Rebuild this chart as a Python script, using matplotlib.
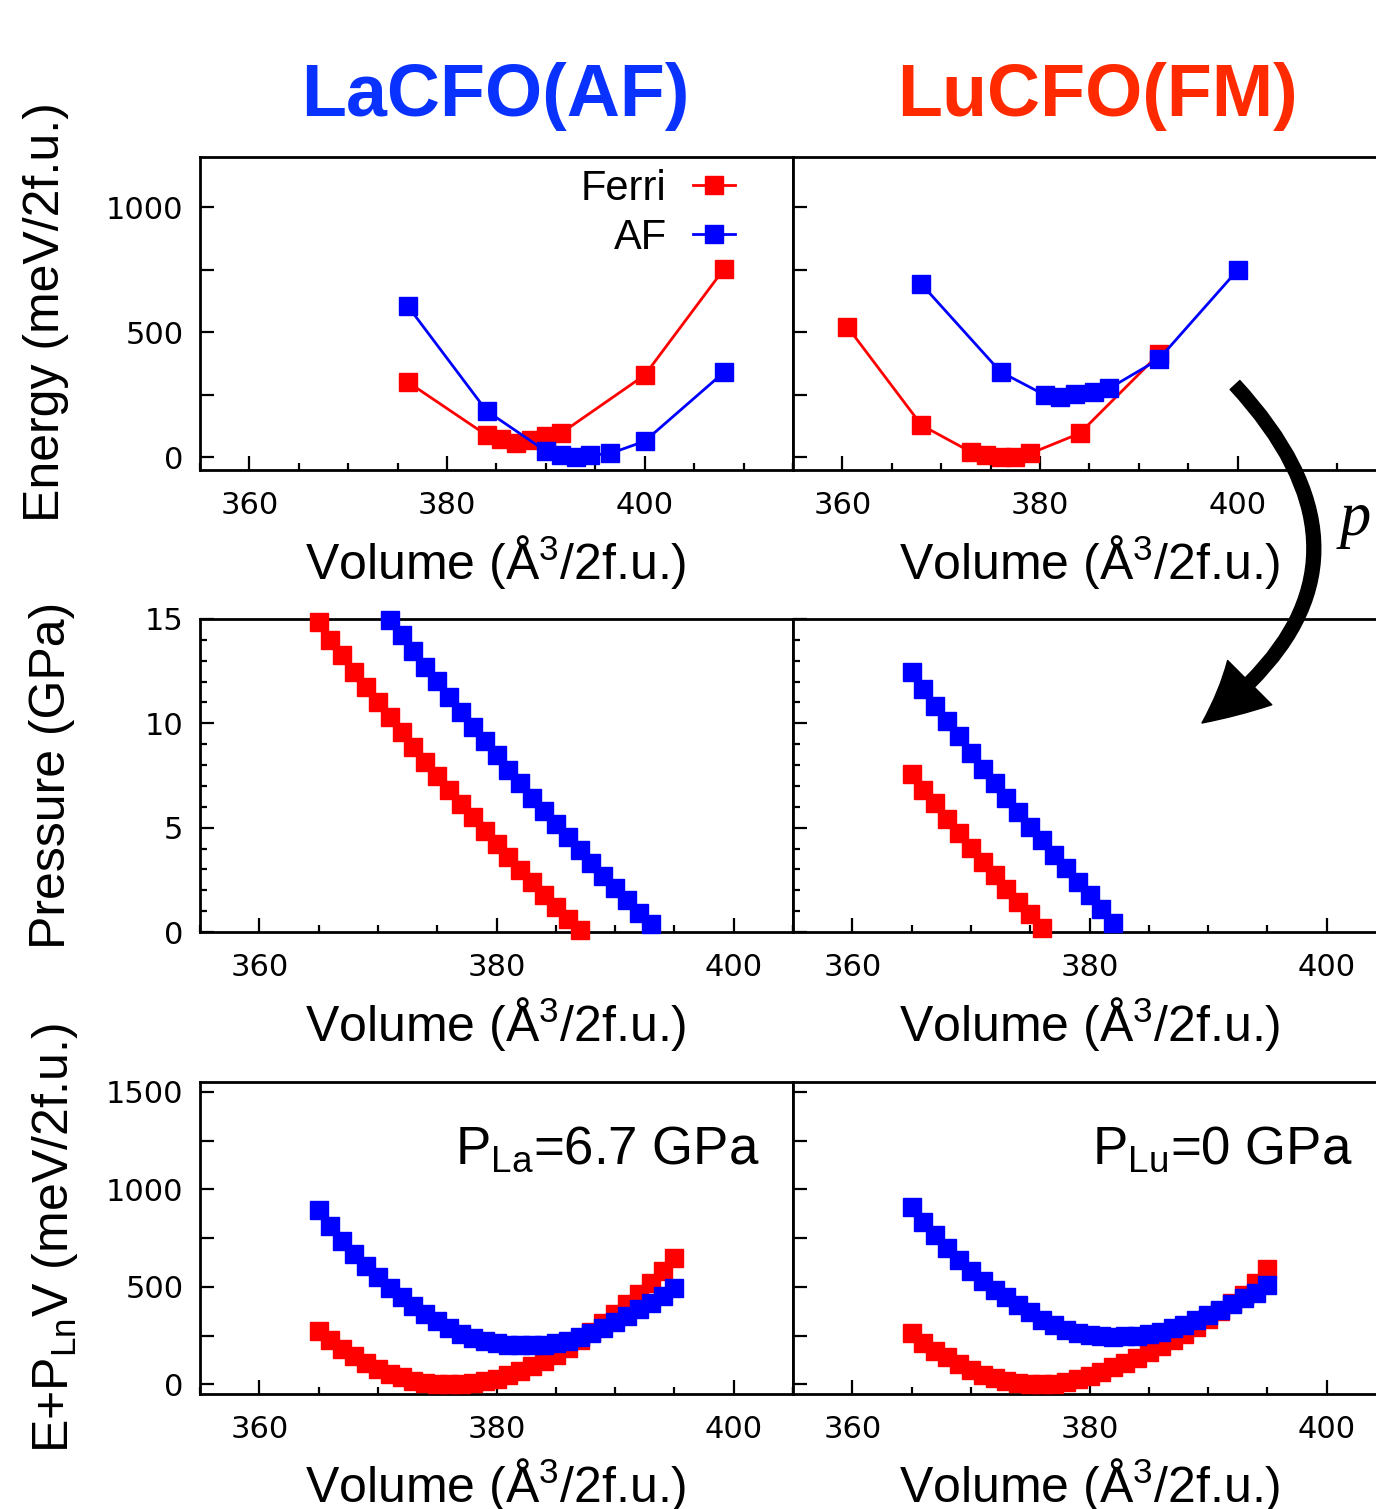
import matplotlib
matplotlib.use('Agg')
import matplotlib.pyplot as plt
from matplotlib.patches import FancyArrowPatch, ArrowStyle
from matplotlib.ticker import MultipleLocator, FuncFormatter

plt.rcParams['font.family'] = ['Liberation Sans', 'DejaVu Sans']
plt.rcParams['mathtext.fontset'] = 'custom'
plt.rcParams['mathtext.rm'] = 'Liberation Sans'
plt.rcParams['mathtext.it'] = 'Liberation Sans:italic'
plt.rcParams['mathtext.bf'] = 'Liberation Sans:bold'

# ---------------- data ----------------
# Top row: energy vs volume
la_ferri_v = [376, 384, 385.5, 387, 388.5, 390, 391.5, 400, 408]
la_ferri_e = [302, 89, 75, 58, 70, 85, 96, 329, 752]
la_af_v = [376, 384, 390, 391.5, 393, 394.5, 396.5, 400, 408]
la_af_e = [606, 186, 25, 9, 0, 9, 16, 65, 340]

lu_ferri_v = [360.5, 368, 373, 374.5, 376, 377.5, 379, 384, 392]
lu_ferri_e = [522, 129, 22, 9, 2, 2, 16, 96, 412]
lu_af_v = [368, 376, 380.5, 382, 383.5, 385.5, 387, 392, 400]
lu_af_e = [692, 342, 249, 243, 253, 262, 276, 392, 749]

# Middle row: pressure vs volume
la_ferri_pv = [365, 366, 367, 368, 369, 370, 371, 372, 373, 374, 375, 376,
               377, 378, 379, 380, 381, 382, 383, 384, 385, 386, 387]
la_ferri_p = [14.85, 14.0, 13.28, 12.48, 11.72, 11.0, 10.31, 9.59, 8.87, 8.16,
              7.48, 6.80, 6.14, 5.50, 4.86, 4.22, 3.58, 2.99, 2.38, 1.78,
              1.18, 0.63, 0.08]
la_af_pv = [371, 372, 373, 374, 375, 376, 377, 378, 379, 380, 381, 382,
            383, 384, 385, 386, 387, 388, 389, 390, 391, 392, 393]
la_af_p = [14.95, 14.22, 13.46, 12.71, 12.02, 11.25, 10.53, 9.83, 9.13, 8.46,
           7.77, 7.13, 6.44, 5.80, 5.16, 4.54, 3.93, 3.29, 2.69, 2.12, 1.53,
           0.91, 0.40]
lu_ferri_pv = [365, 366, 367, 368, 369, 370, 371, 372, 373, 374, 375, 376]
lu_ferri_p = [7.57, 6.81, 6.17, 5.40, 4.73, 4.04, 3.37, 2.73, 2.06, 1.44,
              0.84, 0.19]
lu_af_pv = [365, 366, 367, 368, 369, 370, 371, 372, 373, 374, 375, 376,
            377, 378, 379, 380, 381, 382]
lu_af_p = [12.45, 11.65, 10.85, 10.10, 9.38, 8.58, 7.82, 7.16, 6.41, 5.74,
           5.05, 4.41, 3.69, 3.05, 2.40, 1.76, 1.12, 0.43]

# Bottom row: enthalpy E + P V vs volume
h_v = [365, 366, 367, 368, 369, 370, 371, 372, 373, 374, 375, 376, 377, 378,
       379, 380, 381, 382, 383, 384, 385, 386, 387, 388, 389, 390, 391, 392,
       393, 394, 395]
la_af_h = [893, 813, 737, 669, 605, 550, 496, 446, 401, 360, 322, 288, 260,
           238, 221, 210, 203, 200, 200, 203, 210, 222, 240, 262, 290, 320,
           352, 384, 418, 452, 492]
la_ferri_h = [274, 225, 183, 145, 110, 80, 55, 35, 19, 8, 2, 0, 1, 6, 15, 28,
              45, 66, 92, 120, 152, 188, 226, 268, 312, 360, 410, 464, 520,
              580, 645]
lu_af_h = [910, 830, 766, 698, 639, 580, 532, 485, 445, 405, 368, 332, 302,
           280, 263, 252, 246, 244, 246, 250, 258, 270, 286, 306, 328, 354,
           380, 410, 440, 470, 508]
lu_ferri_h = [263, 212, 172, 138, 104, 74, 50, 30, 16, 6, 1, 0, 3, 12, 26,
              44, 64, 86, 110, 136, 164, 194, 226, 260, 296, 334, 374, 416,
              460, 520, 593]

titles = ['LaCFO(AF)', 'LuCFO(FM)']
title_colors = ['#0A32FF', '#FF2A00']
series_names = ['Ferri', 'AF']
RED = '#FF0000'
BLUE = '#0000FF'

# ---------------- layout ----------------
W, H = 1376, 1509
fig = plt.figure(figsize=(W / 100, H / 100), dpi=100)


def ax_at(x0, y0, x1, y1):
    return fig.add_axes([x0 / W, 1 - y1 / H, (x1 - x0) / W, (y1 - y0) / H])


cols = [(200, 793), (793, 1386)]
rows = [(157, 470), (619, 932), (1082, 1394)]

TICKFONT = 'DejaVu Sans'


def style(ax, xlim, ylim, ystep, ylabstep, yminor, show_y):
    ax.set_xlim(*xlim)
    ax.set_ylim(*ylim)
    ax.xaxis.set_major_locator(MultipleLocator(20))
    ax.xaxis.set_minor_locator(MultipleLocator(5))
    ax.yaxis.set_major_locator(MultipleLocator(ystep))
    if yminor:
        ax.yaxis.set_minor_locator(MultipleLocator(yminor))
    ax.yaxis.set_major_formatter(FuncFormatter(
        lambda v, p: ('%d' % round(v)) if abs(v / ylabstep - round(v / ylabstep)) < 1e-6 else ''))
    ax.tick_params(which='both', direction='in', top=False, right=False,
                   width=1.6, labelsize=22, labelfontfamily=TICKFONT)
    ax.tick_params(axis='x', which='major', length=10, pad=15)
    ax.tick_params(axis='x', which='minor', length=5)
    ax.tick_params(axis='y', which='major', length=10, pad=12)
    ax.tick_params(axis='y', which='minor', length=5)
    if not show_y:
        ax.tick_params(axis='y', labelleft=False)
    for s in ax.spines.values():
        s.set_linewidth(2.0)


MS = 12.5
axes = {}
for r, (y0, y1) in enumerate(rows):
    for c, (x0, x1) in enumerate(cols):
        axes[(r, c)] = ax_at(x0, y0, x1, y1)

# top row
for c, (fv, fe, av, ae) in enumerate([(la_ferri_v, la_ferri_e, la_af_v, la_af_e),
                                      (lu_ferri_v, lu_ferri_e, lu_af_v, lu_af_e)]):
    ax = axes[(0, c)]
    ax.plot(fv, fe, '-s', color=RED, ms=MS, lw=2, label=series_names[0], clip_on=False, zorder=3)
    ax.plot(av, ae, '-s', color=BLUE, ms=MS, lw=2, label=series_names[1], clip_on=False, zorder=4)
    style(ax, (355, 415), (-50, 1200), 250, 500, None, c == 0)

leg = axes[(0, 0)].legend(loc='upper right', bbox_to_anchor=(0.903, 0.962),
                          frameon=False, markerfirst=False, fontsize=30,
                          handlelength=1.03, handletextpad=0.62,
                          labelspacing=0.22, borderpad=0, borderaxespad=0)

# middle row
for c, (fv, fp, av, ap) in enumerate([(la_ferri_pv, la_ferri_p, la_af_pv, la_af_p),
                                      (lu_ferri_pv, lu_ferri_p, lu_af_pv, lu_af_p)]):
    ax = axes[(1, c)]
    ax.plot(fv, fp, 's', color=RED, ms=MS, clip_on=False, zorder=3)
    ax.plot(av, ap, 's', color=BLUE, ms=MS, clip_on=False, zorder=4)
    style(ax, (355, 405), (0, 15), 5, 5, 1, c == 0)

# bottom row
for c, (fh, ah) in enumerate([(la_ferri_h, la_af_h), (lu_ferri_h, lu_af_h)]):
    ax = axes[(2, c)]
    ax.plot(h_v, fh, 's', color=RED, ms=MS, clip_on=False, zorder=3)
    ax.plot(h_v, ah, 's', color=BLUE, ms=MS, clip_on=False, zorder=4)
    style(ax, (355, 405), (-50, 1550), 250, 500, None, c == 0)

axes[(2, 0)].text(0.944, 0.74, r'P$_{\mathrm{La}}$=6.7 GPa', transform=axes[(2, 0)].transAxes,
                  ha='right', va='baseline', fontsize=38)
axes[(2, 1)].text(0.944, 0.74, r'P$_{\mathrm{Lu}}$=0 GPa', transform=axes[(2, 1)].transAxes,
                  ha='right', va='baseline', fontsize=38)

# x labels
xlab = r'Volume (Å$^3$/2f.u.)'
for y in (563, 1025, 1486):
    for xc in (496, 1090):
        fig.text(xc / W, 1 - y / H, xlab, ha='center', va='center', fontsize=36)

# y labels
fig.text(46 / W, 1 - 312 / H, 'Energy (meV/2f.u.)', rotation=90, ha='center', va='center', fontsize=36)
fig.text(52 / W, 1 - 775 / H, 'Pressure (GPa)', rotation=90, ha='center', va='center', fontsize=36)
fig.text(55 / W, 1 - 1238 / H, r'E+P$_{\mathrm{Ln}}$V (meV/2f.u.)', rotation=90, ha='center',
         va='center', fontsize=36)

# titles
fig.text(495 / W, 1 - 116 / H, titles[0], ha='center', va='baseline', fontsize=53,
         fontweight='bold', color=title_colors[0])
fig.text(1097 / W, 1 - 116 / H, titles[1], ha='center', va='baseline', fontsize=53,
         fontweight='bold', color=title_colors[1])

# pressure arrow
arrow = FancyArrowPatch((1235 / W, 1 - 385 / H), (1202 / W, 1 - 723 / H),
                        transform=fig.transFigure,
                        connectionstyle='arc3,rad=-0.56',
                        arrowstyle=ArrowStyle.Simple(head_length=45, head_width=45, tail_width=9.5),
                        mutation_scale=1, color='black', shrinkA=0, shrinkB=0, zorder=10)
fig.add_artist(arrow)
fig.text(1340 / W, 1 - 535 / H, 'p', fontsize=45, fontstyle='italic',
         family='Liberation Serif', ha='left', va='baseline')

fig.savefig('out.png', dpi=100)
